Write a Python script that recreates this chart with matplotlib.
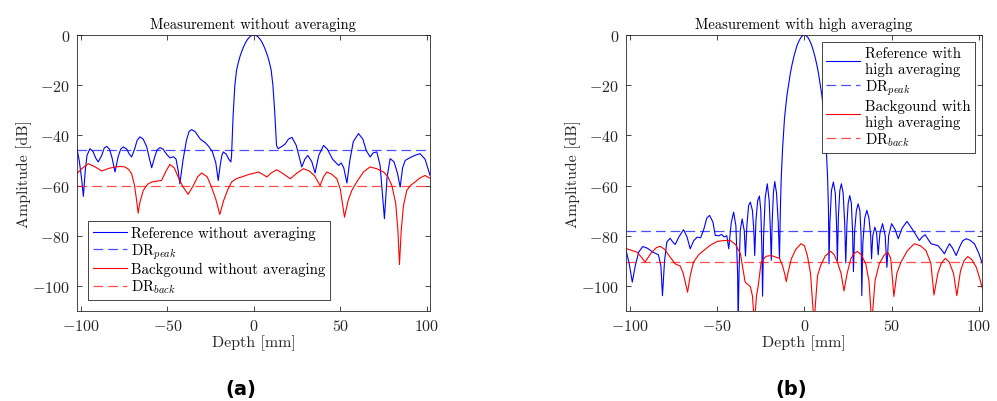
import matplotlib
matplotlib.use("Agg")
import matplotlib.pyplot as plt

plt.rcParams["font.family"] = "serif"
plt.rcParams["font.serif"] = ["cmr10"]
plt.rcParams["mathtext.fontset"] = "cm"
plt.rcParams["axes.formatter.use_mathtext"] = True
plt.rcParams["lines.scale_dashes"] = False

# (a) measurement without averaging
ref_a_x = [-102.5, -101, -99.5, -98.6, -97.5, -96.5, -94.8, -93, -91.5, -90, -88, -86.5, -85.1,
           -83.5, -82, -80.3, -78.5, -77, -75.5, -73.5, -72, -70.7, -69, -67.5, -65.9, -64, -62,
           -60.5, -59.1, -57.5, -56, -54.3, -52.5, -50.5, -48.5, -46.5, -45, -43.8, -42.8, -41, -39,
           -37.5, -36, -34, -31, -28, -26, -24, -22, -20.6, -19.5, -18.5, -17.7, -16, -14.5, -13.3,
           -12.9, -12, -11, -10, -9, -8, -7, -6, -5, -4, -3, -2, -1, 0, 1, 2, 3, 4, 5, 6, 7, 8, 9, 10,
           11, 12, 13.1, 14, 16.2, 18, 20,
           22, 24.5, 26, 27.7, 29.5, 31.2, 33.5, 35.4, 37.5, 40.3, 42.5, 45.5, 49, 50.5, 52, 53.8,
           55.5, 57.5, 60.5, 63, 65, 67.2, 69, 71.1, 73, 75.5, 77, 78.8, 81, 83, 84.6, 86, 87.5, 90,
           93, 96.1, 99, 101.9]
ref_a_y = [-44.6, -50, -58, -64.3, -54, -48, -45.3, -46.5, -49, -50.6, -48, -45, -44.4,
           -45.5, -49, -54.6, -48.5, -45.5, -44.6, -45.5, -47.5, -48.6, -45.5, -42, -40.6, -41.5, -44.5,
           -49, -52.9, -49, -45.8, -44.9, -45.5, -47.5, -49, -48.5, -49.5, -54, -59.3, -50, -42,
           -38.5, -37.7, -38.5, -41.5, -43, -44.5, -46.5, -51, -58, -52, -48, -46.6, -47.5, -49.5, -50.6,
           -48, -32, -20, -14, -11, -8.5, -6.5, -4.8, -3.3, -2.1, -1.2, -0.5, -0.12, 0, -0.12, -0.5,
           -1.2, -2.1, -3.3, -4.8, -6.5, -8.5, -11, -14,
           -20, -30, -44, -45.3, -44.4, -43.5, -41.5, -40.8, -44, -48, -52.6, -49.5, -48, -50.5, -55,
           -48, -44, -45.5, -49.5,
           -52, -51, -53, -59, -50, -42.5, -39.3, -41.5, -46, -48.6, -47, -46.6, -52, -73.2, -57,
           -49.3, -50.5, -55, -60.6, -53, -50, -49, -48, -47.3, -49.5, -56]

back_a_x = [-102.5, -99, -95.8, -92, -88, -84, -80.3, -77, -74.6, -72.5, -70.7, -69, -67.8, -66.9,
            -66, -64, -61.5, -59.1, -56, -53.4, -51, -48.6, -46, -43.8, -41, -38, -35, -32.5, -30.2,
            -27, -24.5, -22, -19.7, -17.5, -15, -12.9, -10, -7.1, -3, 0.6, 2.7, 5, 7.5, 10, 13.3, 17,
            21, 25, 28.7, 32, 35, 38.3, 40.3, 42.2, 45, 48, 50, 52.4, 54.5, 56.6, 60, 63.5, 67.2, 71,
            75, 77.5, 79.8, 82, 83.3, 84.2, 85.2, 86.5, 88.4, 90.5, 93.2, 96, 99, 102.3]
back_a_y = [-55.3, -53, -51.3, -52.5, -54.2, -53.2, -52.6, -52.4, -52.6, -53.5, -55.3, -60, -66, -71,
            -67, -62, -59.5, -58.6, -58.2, -58, -54.5, -51.6, -53, -56.6, -60.5, -63.5, -60, -56.5, -55,
            -56.5, -60.6, -65.5, -71.5, -66, -61.5, -58.6, -57.2, -56.6, -55.6, -55, -54.6, -55.5, -56.6,
            -55, -53.7, -55.3, -57.3, -55, -53.3, -54.2, -56, -60, -56.5, -54.6, -55.5, -57.3, -61.5,
            -72.6, -66, -62, -58, -54.5, -52.6, -53.3, -54.6, -56.5, -60, -67, -78, -91.5, -78, -68,
            -62, -60, -58.6, -57, -56, -57.3]

dr_peak_a = -46
dr_back_a = -60

# (b) measurement with high averaging
ref_b_x = [-102.5, -100.5, -98.7, -97, -95, -92.7, -90, -87, -83.7, -82.3, -81.4, -80.2, -78.9, -77,
           -75.5, -74.1, -72, -69.3, -67.3, -65.5, -63.5, -61.6, -59.5, -57.5, -56, -54.4, -52.5,
           -51.1, -49, -47.5, -46, -44.5, -43.4, -42, -40.6, -39.3, -38.3, -38, -37.5, -36.8, -35.7,
           -34.5, -33.8, -33, -32, -31, -29.8, -29, -28.5, -27.8, -26.8, -25.8, -25, -24.4, -24,
           -23.4, -22.5, -21.3, -20.2, -19.5, -19, -18.5, -17.8, -17, -16, -15, -14.3, -13.8, -13.3,
           -12.5, -11.4, -10, -9, -8, -7, -6, -5, -4, -3, -2, -1, 0, 1, 2, 3, 4, 5, 6, 7, 8, 9, 10,
           11.4, 12.5, 13.3, 13.8, 14.1, 14.6,
           15.5, 16.6, 17.7, 18.4, 18.9, 19.5, 20.3, 21.2, 22.2, 23.1, 23.7, 24.4, 25.1, 26, 26.9,
           27.6, 28.1, 28.8, 29.8, 30.8, 31.8, 32.5, 32.9, 33.5, 34.6, 35.8, 37, 38, 38.5, 39.2, 40.4,
           41.4, 42.3, 43.3, 44.8, 46.3, 47.3, 48.3, 50, 52, 53.8, 56, 58.8, 61, 63, 65.9, 67.5, 69.2,
           71, 72.6, 76.5, 78.5, 80.3, 81.8, 83.2, 85, 87, 89, 90.8, 92.8, 95, 97.5, 100, 102.4]
ref_b_y = [-85.2, -91, -98.5, -92, -86.5, -84.3, -85, -86.5, -87.6, -92, -103.9, -90, -82.5, -81,
           -82.5, -83.5, -80.5, -77.6, -80.5, -85.2, -82, -80.6, -80.8, -77, -73, -71.9, -74.5,
           -79.9, -80, -79.5, -80.5, -80, -85.2, -75, -70.6, -76, -95, -115, -95, -78, -73.3,
           -78, -88.1, -76, -68, -66.6, -70, -78, -87.9, -74, -66, -64.2, -70, -85, -104.1,
           -80, -65, -59.3, -66, -78, -89.8, -75, -63, -58.4, -63, -75, -89.2, -70, -57,
           -45, -33, -24, -19.5, -15, -11.5, -8.5, -6, -3.8, -2.2, -1, -0.25, 0, -0.25, -1, -2.2, -3.8,
           -6, -8.5, -11.5, -15, -19.5, -24,
           -33, -45, -57, -70, -91.2, -75,
           -62, -58.6, -63, -75, -89.9, -72, -62, -59.3, -63, -75, -90.8, -75, -67, -64, -67,
           -78, -94.3, -78, -70, -67.3, -70, -80, -103.9, -83, -73, -69.9, -73, -80, -89.2, -80, -76.6,
           -79, -87.6, -79, -75.2, -80, -92.6, -80, -75.2, -77.5, -81.2, -77, -74.3, -76.5, -78.6, -81.9,
           -80.5, -79.6, -81.5, -83.2, -83.9, -85.5, -87.2, -85, -83.2, -85, -87.9, -84.5, -82, -81.2,
           -81.8, -83.2, -87, -91.9]

back_b_x = [-101.9, -96.1, -93.5, -91.4, -88, -85, -82.7, -80, -78, -74.1, -71.2, -69.5, -67, -65.5,
            -63.6, -60.5, -57.8, -54, -50.1, -46, -42.5, -39.5, -36.7, -34, -31, -29.8, -28.7, -27.5,
            -26.5, -24.8, -22, -19, -16.5, -14.3, -12.5, -11.2, -10.4, -9.5, -7.5, -5, -2, 0, 1.7, 3.5,
            5.5, 7.5, 9.3, 12, 15.1, 17, 18.9, 21, 22.7, 24.5, 26.6, 28.5, 30.4, 32.5, 35.2, 37, 38.6,
            40.5, 42.9, 45.5, 47.7, 49.5, 51.3, 53, 55.4, 59, 63, 66.5, 69.7, 72.5, 74.3, 76.5, 78.5,
            80.8, 83, 85.5, 87.4, 89.5, 91.5, 93.7, 96, 98.5, 100.5, 102.4]
back_b_y = [-85.2, -86.5, -88.5, -90.5, -87, -84.8, -84.2, -85.5, -87.6, -91.2, -92.1, -95, -102.5, -96,
            -90.5, -87.5, -85.9, -83.8, -82.3, -81.9, -81.9, -83.5, -87.2, -98.5, -100.3, -104, -115, -104,
            -100, -90.5, -88.2, -87.9, -88.5, -89, -92, -95.5, -98.3, -95, -89.2, -85.5, -83.2, -84, -87.9,
            -95, -115, -96, -91.9, -88, -86.2, -87.5, -90.5, -95, -102, -95, -89.2, -87, -86.3, -87.5,
            -91.2, -98, -115, -98, -91.2, -88, -86.5, -89, -104.2, -95, -90.5, -86, -83.2, -84, -85.9,
            -91, -103.6, -95, -91, -89, -90.5, -95, -103.9, -94, -90, -88.3, -89.5, -92.5, -97, -101.9]

dr_peak_b = -78.3
dr_back_b = -90.5

x_ticks = [-100, -50, 0, 50, 100]
y_ticks = [0, -20, -40, -60, -80, -100]

AX_COLOR = "#262626"
BLUE = "#0000ff"
RED = "#ff0000"


def style_axes(ax, title):
    ax.set_xlim(-102.3, 101.8)
    ax.set_ylim(-110, 0)
    ax.set_xticks(x_ticks)
    ax.set_yticks(y_ticks)
    ax.tick_params(direction="in", top=True, right=True, length=3.5, width=0.6,
                   colors=AX_COLOR, labelsize=11.5, pad=5)
    for s in ax.spines.values():
        s.set_color(AX_COLOR)
        s.set_linewidth(0.6)
    ax.set_title(title, fontsize=10.5, color="black", pad=5)
    ax.set_xlabel("Depth [mm]", fontsize=11.5, color=AX_COLOR, labelpad=1)
    ax.set_ylabel("Amplitude [dB]", fontsize=11.5, color=AX_COLOR, labelpad=0)


def add_legend(ax, loc, anchor):
    leg = ax.legend(loc=loc, bbox_to_anchor=anchor, fontsize=10.7,
                    handlelength=2.3, handletextpad=0.3, labelspacing=0.1, borderpad=0.3,
                    borderaxespad=0, fancybox=False, framealpha=1)
    leg.get_frame().set_edgecolor(AX_COLOR)
    leg.get_frame().set_linewidth(0.6)


fig = plt.figure(figsize=(9.97, 4.02), dpi=100)
ax_a = fig.add_axes([0.0772, 0.2239, 0.354, 0.6866])
ax_b = fig.add_axes([0.6279, 0.2239, 0.357, 0.6866])

dash = (7, 3.6)

ax_a.plot(ref_a_x, ref_a_y, color=BLUE, lw=0.8, label="Reference without averaging")
ax_a.axhline(dr_peak_a, color=BLUE, lw=0.9, alpha=0.7, dashes=dash, label="DR$_{peak}$")
ax_a.plot(back_a_x, back_a_y, color=RED, lw=0.8, label="Backgound without averaging")
ax_a.axhline(dr_back_a, color=RED, lw=0.9, alpha=0.7, dashes=dash, label="DR$_{back}$")
style_axes(ax_a, "Measurement without averaging")
add_legend(ax_a, "lower left", (0.032, 0.04))

ax_b.plot(ref_b_x, ref_b_y, color=BLUE, lw=0.8, label="Reference with\nhigh averaging")
ax_b.axhline(dr_peak_b, color=BLUE, lw=0.9, alpha=0.7, dashes=dash, label="DR$_{peak}$")
ax_b.plot(back_b_x, back_b_y, color=RED, lw=0.8, label="Backgound with\nhigh averaging")
ax_b.axhline(dr_back_b, color=RED, lw=0.9, alpha=0.7, dashes=dash, label="DR$_{back}$")
style_axes(ax_b, "Measurement with high averaging")
add_legend(ax_b, "upper right", (0.98, 0.975))

fig.text(0.242, 0.032, "(a)", family="DejaVu Sans", fontweight="bold", fontsize=14,
         ha="center", va="center")
fig.text(0.794, 0.032, "(b)", family="DejaVu Sans", fontweight="bold", fontsize=14,
         ha="center", va="center")

fig.savefig("out.png", dpi=100)
